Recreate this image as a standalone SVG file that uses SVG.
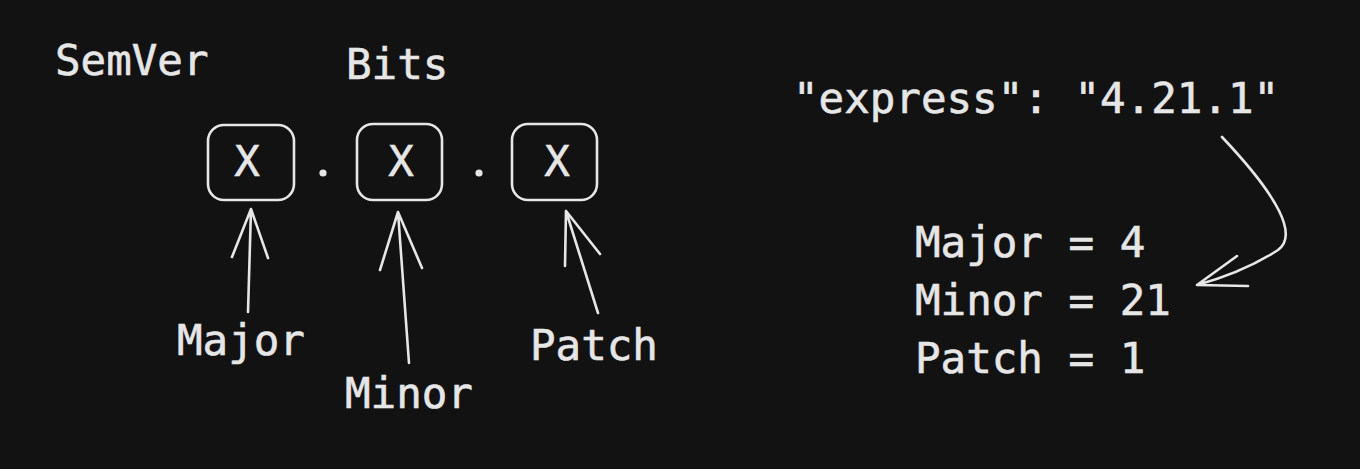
<svg xmlns="http://www.w3.org/2000/svg" width="1360" height="469" viewBox="0 0 1360 469">
<style>
.t{font-family:"DejaVu Sans Mono","Liberation Mono",monospace;font-size:42.5px;fill:#e6e6e6;stroke:#e6e6e6;stroke-width:0.6}
.s{fill:none;stroke:#e6e6e6;stroke-width:2.6;stroke-linecap:round;stroke-linejoin:round}
</style>
<rect width="1360" height="469" fill="#121212"/>
<g id="title"><text class="t" x="55" y="75">SemVer</text></g>
<g id="bits"><text class="t" x="346" y="79">Bits</text></g>
<g id="box-major">
<rect class="s" x="208" y="125" width="86" height="75" rx="16"/>
<text class="t" x="247" y="176" text-anchor="middle">X</text>
</g>
<g id="dot1"><circle cx="323" cy="173" r="3.6" fill="#e6e6e6"/></g>
<g id="box-minor">
<rect class="s" x="357" y="124" width="85" height="76" rx="16"/>
<text class="t" x="401" y="176" text-anchor="middle">X</text>
</g>
<g id="dot2"><circle cx="479" cy="173" r="3.6" fill="#e6e6e6"/></g>
<g id="box-patch">
<rect class="s" x="512" y="124" width="85" height="76" rx="16"/>
<text class="t" x="557" y="176" text-anchor="middle">X</text>
</g>
<g id="label-major"><text class="t" x="177" y="355">Major</text></g>
<g id="label-minor"><text class="t" x="345" y="408">Minor</text></g>
<g id="label-patch"><text class="t" x="530" y="360">Patch</text></g>
<g id="express"><text class="t" x="793" y="113">"express": "4.21.1"</text></g>
<g id="result">
<text class="t" x="915" y="257">Major = 4</text>
<text class="t" x="915" y="315">Minor = 21</text>
<text class="t" x="915" y="373">Patch = 1</text>
</g>
<g id="connectors">
<path class="s" d="M248 312 L251 209 M251 209 L232 257 M251 209 L268 258"/>
<path class="s" d="M409 363 L398 212 M398 212 L380 270 M398 212 L422 268"/>
<path class="s" d="M598 313 L566 211 M566 211 L565 266 M566 211 L600 254"/>
<path class="s" d="M1222 137 Q1308 228 1278 250 Q1244 272 1197 285 M1197 285 L1237 256 M1197 285 L1248 286"/>
</g>
</svg>
